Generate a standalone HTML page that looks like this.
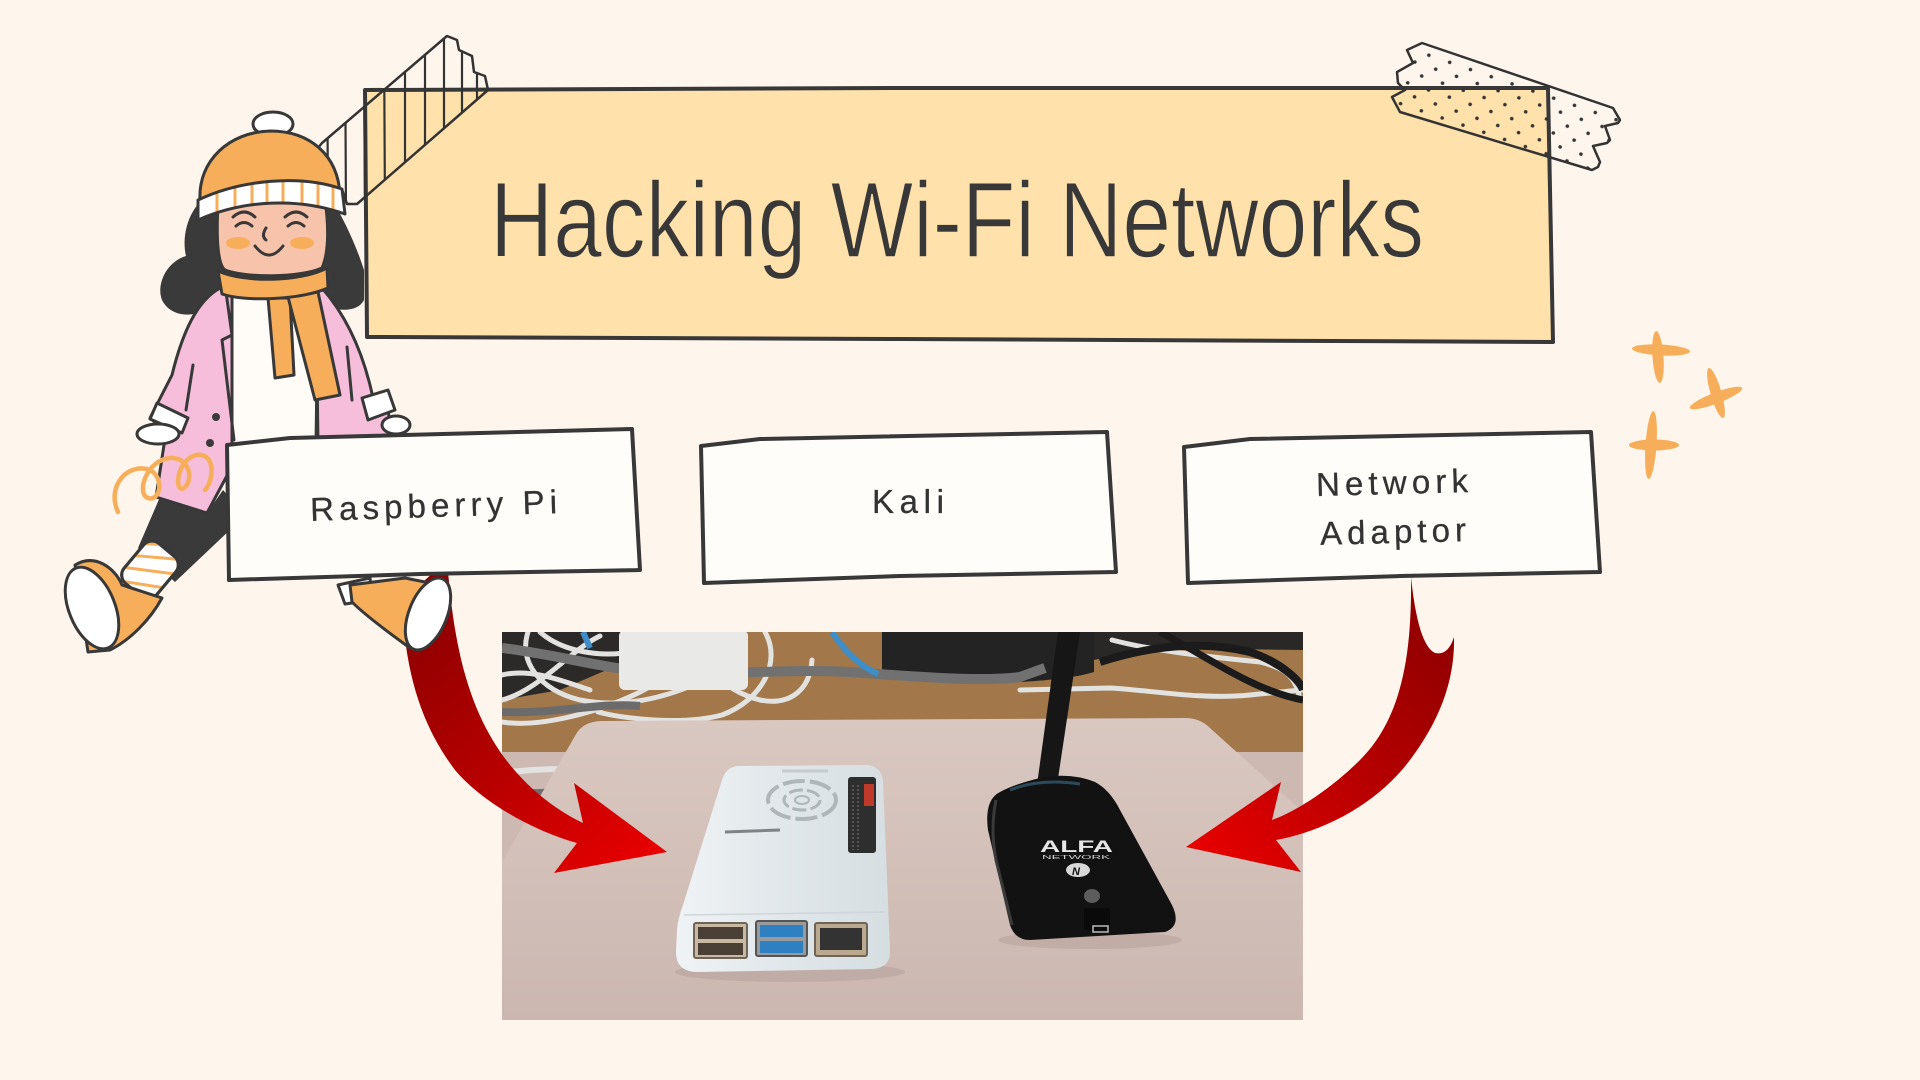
<!DOCTYPE html>
<html><head><meta charset="utf-8"><style>
html,body{margin:0;padding:0;background:#FEF6ED;}
svg{display:block;}
</style></head><body>
<svg width="1920" height="1080" viewBox="0 0 1920 1080" xmlns="http://www.w3.org/2000/svg">
<defs>
 <clipPath id="pc"><rect x="502" y="632" width="801" height="388"/></clipPath>
 <linearGradient id="gl" gradientUnits="userSpaceOnUse" x1="420" y1="600" x2="640" y2="860">
  <stop offset="0" stop-color="#8c0000"/><stop offset="0.55" stop-color="#b80000"/><stop offset="1" stop-color="#e60000"/>
 </linearGradient>
 <linearGradient id="gr" gradientUnits="userSpaceOnUse" x1="1440" y1="600" x2="1210" y2="860">
  <stop offset="0" stop-color="#8c0000"/><stop offset="0.55" stop-color="#b80000"/><stop offset="1" stop-color="#e60000"/>
 </linearGradient>
 <linearGradient id="mat" x1="0" y1="0" x2="0" y2="1">
  <stop offset="0" stop-color="#d9c8c1"/><stop offset="1" stop-color="#cbb7b0"/>
 </linearGradient>
 <linearGradient id="pi" x1="0" y1="0" x2="1" y2="0">
  <stop offset="0" stop-color="#f0f3f5"/><stop offset="0.4" stop-color="#e3e9ec"/><stop offset="1" stop-color="#d6dee2"/>
 </linearGradient>
 <pattern id="dots" patternUnits="userSpaceOnUse" width="22" height="22" patternTransform="rotate(19)">
  <circle cx="5" cy="5" r="1.8" fill="#333"/><circle cx="16" cy="16" r="1.8" fill="#333"/>
 </pattern>
 <clipPath id="tapeL"><polygon points="447,36 457,40 459,50 472,56 474,72 485,76 488,90 357,204 347,204 343,192 327,172 314,167 313,154 322,143"/></clipPath>
 <clipPath id="brimc"><path d="M198,200 C240,180 300,174 342,189 L345,214 C300,198 245,199 198,220 Z"/></clipPath>
 <clipPath id="sockc"><rect x="-21" y="-26" width="42" height="52" rx="11"/></clipPath>
</defs>

<rect width="1920" height="1080" fill="#FEF6ED"/>

<!-- ================= PHOTO ================= -->
<g clip-path="url(#pc)">
 <rect x="502" y="632" width="801" height="388" fill="#cdb9b2"/>
 <rect x="502" y="632" width="801" height="120" fill="#a2774a"/>
 <path d="M502,632 L650,632 L630,660 L560,690 L502,700 Z" fill="#2c2a28"/>
 <path d="M1094,632 L1303,632 L1303,650 L1150,648 L1094,660 Z" fill="#2a2826"/>
 <path d="M882,632 L1094,632 L1094,672 C1050,686 920,686 882,676 Z" fill="#232323"/>
 <g fill="none" stroke="#e2e2e0" stroke-width="5" stroke-linecap="round">
  <path d="M502,700 C540,690 570,650 600,636"/>
  <path d="M502,722 C540,728 600,712 640,692 C680,672 700,650 722,632"/>
  <path d="M528,632 C518,662 540,690 580,700 C620,708 660,700 700,682"/>
  <path d="M765,632 C782,662 762,700 722,715 C680,726 620,718 598,712"/>
  <path d="M690,632 C700,660 720,690 760,700 C790,706 810,690 812,660"/>
  <path d="M502,675 C530,668 560,680 590,690"/>
  <path d="M540,632 C560,650 600,660 640,650"/>
  <path d="M1020,690 L1110,688 C1150,690 1200,700 1250,695 C1280,692 1300,690 1303,690"/>
  <path d="M1112,640 C1150,650 1200,656 1260,662 C1285,668 1296,676 1300,700"/>
  <path d="M508,772 C530,770 550,768 575,770" stroke-width="6"/>
 </g>
 <path d="M502,790 C530,795 560,792 570,788" stroke="#6e6e6e" stroke-width="7" fill="none"/>
 <path d="M502,648 C560,655 600,668 650,672 C720,677 780,668 850,672 C920,677 980,682 1020,677 L1045,668" fill="none" stroke="#717171" stroke-width="10"/>
 <path d="M502,712 C560,714 600,702 640,706" fill="none" stroke="#6b6b6b" stroke-width="8"/>
 <path d="M583,632 L590,648" stroke="#3d8ec9" stroke-width="6"/>
 <path d="M832,632 C845,652 860,666 878,674" fill="none" stroke="#3d8ec9" stroke-width="6"/>
 <path d="M1100,662 C1150,646 1200,640 1250,652 C1280,662 1300,680 1303,690" fill="none" stroke="#1b1b1b" stroke-width="8"/>
 <path d="M1160,632 C1200,652 1250,690 1303,700" fill="none" stroke="#1b1b1b" stroke-width="7"/>
 <rect x="619" y="630" width="129" height="60" rx="6" fill="#e9e9e8"/>
 <path d="M502,862 L575,736 Q582,722 600,721 L1185,718 Q1200,718 1210,728 L1303,812 L1303,1020 L502,1020 Z" fill="url(#mat)"/>
 <ellipse cx="790" cy="972" rx="115" ry="10" fill="#b8a39c" opacity="0.6"/>
 <ellipse cx="1090" cy="940" rx="92" ry="9" fill="#b8a39c" opacity="0.6"/>
 <path d="M738,766 L866,765 Q880,765 883,780 L890,950 Q891,968 872,969 L698,972 Q676,972 676,952 L677,930 Q678,918 683,905 L722,780 Q726,767 738,766 Z" fill="url(#pi)"/>
 <path d="M684,915 L885,912" stroke="#cfd6da" stroke-width="1.5"/>
 <path d="M782,771 L828,771" stroke="#c4cacd" stroke-width="3"/>
 <path d="M725,832 L780,830" stroke="#7d8488" stroke-width="3"/>
 <ellipse cx="802" cy="800" rx="34" ry="19" fill="none" stroke="#aeb6ba" stroke-width="4" stroke-dasharray="22 5"/>
 <ellipse cx="802" cy="800" rx="18" ry="10" fill="none" stroke="#aeb6ba" stroke-width="3" stroke-dasharray="14 4"/>
 <ellipse cx="802" cy="800" rx="7" ry="4" fill="none" stroke="#aeb6ba" stroke-width="2"/>
 <rect x="848" y="777" width="28" height="76" rx="3" fill="#2e2e2e"/>
 <path d="M853,785 L853,850 M858,785 L858,850" stroke="#555" stroke-width="2" stroke-dasharray="2 2"/>
 <rect x="864" y="784" width="10" height="22" fill="#c0392b"/>
 <rect x="694" y="923" width="53" height="35" rx="2" fill="#c9b9a2" stroke="#6e6458" stroke-width="2"/>
 <rect x="698" y="927" width="45" height="12" fill="#4a4036"/>
 <rect x="698" y="943" width="45" height="12" fill="#4a4036"/>
 <rect x="756" y="921" width="51" height="35" rx="2" fill="#9a9a9a" stroke="#555" stroke-width="2"/>
 <rect x="760" y="925" width="43" height="12" fill="#2f80c0"/>
 <rect x="760" y="941" width="43" height="12" fill="#2f80c0"/>
 <rect x="815" y="923" width="52" height="33" rx="2" fill="#bba98f" stroke="#6e6458" stroke-width="2"/>
 <rect x="820" y="928" width="42" height="22" fill="#333"/>
 <polygon points="1058,632 1080,632 1056,792 1036,792" fill="#161616"/>
 <path d="M1040,778 Q1070,772 1095,782 Q1110,790 1120,810 L1172,905 Q1182,926 1165,932 L1030,940 Q1015,940 1010,925 L988,830 Q984,800 1000,792 Q1015,784 1040,778 Z" fill="#121212"/>
 <path d="M996,800 Q990,830 996,860 L1012,925" fill="none" stroke="#3a3a3a" stroke-width="3"/>
 <path d="M1010,790 Q1040,778 1080,784" fill="none" stroke="#2b4a5a" stroke-width="3"/>
 <text x="1040" y="852" font-family="Liberation Sans, sans-serif" font-weight="bold" font-size="17" fill="#e6e6e6" textLength="73" lengthAdjust="spacingAndGlyphs">ALFA</text>
 <text x="1042" y="859" font-family="Liberation Sans, sans-serif" font-size="5" fill="#cfcfcf" textLength="68" lengthAdjust="spacingAndGlyphs">NETWORK</text>
 <ellipse cx="1078" cy="870" rx="12" ry="7" fill="#d8d8d8"/>
 <text x="1072" y="875" font-family="Liberation Sans, sans-serif" font-weight="bold" font-style="italic" font-size="11" fill="#111">N</text>
 <ellipse cx="1092" cy="896" rx="8" ry="7" fill="#5c5c5c"/>
 <rect x="1084" y="908" width="26" height="22" fill="#0a0a0a"/>
 <rect x="1093" y="926" width="15" height="6" fill="none" stroke="#bbb" stroke-width="1.5"/>
</g>

<!-- ================= ARROWS ================= -->
<path d="M447,560 C452,620 460,690 497,747 C515,775 545,805 583,823 L574,783 L667,852 L554,873 L577,843 C530,830 480,800 455,770 C425,730 405,680 402,600 Q420,585 447,560 Z" fill="url(#gl)"/>
<path d="M1411,577 C1412,660 1400,720 1360,760 C1335,785 1300,810 1272,820 L1281,782 L1186,847 L1301,872 L1276,840 C1330,830 1380,800 1410,760 C1440,720 1455,680 1454,637 Q1448,656 1435,653 Q1418,645 1411,577 Z" fill="url(#gr)"/>

<!-- ================= TITLE ================= -->
<path d="M365,90 L900,88 L1548,88 L1553,342 L900,339 L367,337 Z" fill="#FFE1AB" stroke="#383838" stroke-width="4" stroke-linejoin="round"/>
<text x="490" y="257" font-family="Liberation Sans, sans-serif" font-size="108" fill="#383838" stroke="#FFE1AB" stroke-width="1.5" textLength="934" lengthAdjust="spacingAndGlyphs">Hacking Wi-Fi Networks</text>

<!-- tapes -->
<g clip-path="url(#tapeL)" stroke="#333" stroke-width="2.2">
 <path d="M327,30 L328,215 M345,30 L346,215 M364,30 L365,215 M384,30 L385,215 M405,30 L405,215 M425,30 L425,215 M444,30 L444,215 M462,30 L462,215 M477,30 L477,215"/>
</g>
<polygon points="447,36 457,40 459,50 472,56 474,72 485,76 488,90 357,204 347,204 343,192 327,172 314,167 313,154 322,143" fill="none" stroke="#333" stroke-width="2.5" stroke-linejoin="round"/>
<polygon points="1422,43 1613,108 1620,120 1618,123 1605,126 1610,140 1607,143 1593,146 1600,162 1598,167 1592,170 1400,112 1392,97 1405,90 1398,83 1397,72 1413,63 1407,50" fill="url(#dots)" stroke="#333" stroke-width="2.5" stroke-linejoin="round"/>

<!-- ================= GIRL ================= -->
<g stroke="#383838" stroke-width="3" stroke-linejoin="round" stroke-linecap="round">
 <path d="M202,200 C186,215 182,240 186,256 C166,262 156,285 162,300 C170,316 190,318 206,310 L320,305 C340,312 358,312 364,300 L364,270 C356,245 346,225 338,210 Z" fill="#3a3a3a" stroke="none"/>
 <path d="M160,497 L207,513 L223,490 L232,500 L232,528 L175,582 L138,548 Z" fill="#3a3a3a" stroke="none"/>
 <path d="M220,288 C198,300 183,330 172,375 L150,418 L166,432 L156,497 L207,513 L230,470 L310,470 L330,440 L395,440 L388,412 L373,398 C365,360 350,320 322,288 Z" fill="#F6BEDB"/>
 <path d="M232,296 L318,296 L316,445 L232,447 Z" fill="#FFFCF8"/>
 <path d="M226,292 L232,335 L222,340 L234,440" fill="none"/>
 <path d="M193,365 L186,410" fill="none"/>
 <path d="M347,347 L352,400" fill="none"/>
 <path d="M316,300 L318,445" fill="none"/>
 <path d="M268,298 L290,298 L294,375 L275,378 Z" fill="#F7AE5A"/>
 <path d="M288,297 L318,292 L340,395 L315,400 Z" fill="#F7AE5A"/>
 <path d="M218,205 C216,240 218,265 225,270 C245,278 300,278 322,268 C330,250 328,220 325,200 Z" fill="#F8C3AB"/>
 <path d="M218,271 C245,283 300,282 327,268 L328,288 C300,300 245,302 222,294 Z" fill="#F7AE5A"/>
 <path d="M233,217 Q244,207 255,217 M236,226 Q244,219 252,226 M285,217 Q296,207 307,217 M288,226 Q296,219 304,226" fill="none"/>
 <path d="M266,228 Q261,236 266,240" fill="none"/>
 <path d="M255,246 Q269,264 283,246" fill="none"/>
 <ellipse cx="238" cy="243" rx="12" ry="6" fill="#F7AE5A" stroke="none"/>
 <ellipse cx="302" cy="243" rx="12" ry="6" fill="#F7AE5A" stroke="none"/>
 <ellipse cx="273" cy="124" rx="20" ry="12" fill="#fff"/>
 <path d="M200,200 C198,160 230,132 270,131 C310,131 338,155 340,195 Z" fill="#F7AE5A"/>
 <g clip-path="url(#brimc)">
  <path d="M198,200 C240,180 300,174 342,189 L345,214 C300,198 245,199 198,220 Z" fill="#fff" stroke="none"/>
  <path d="M217,170 L217,230 M235,170 L235,230 M252,170 L252,230 M267,170 L267,230 M283,170 L283,230 M302,170 L302,230 M318,170 L318,230 M333,170 L333,230" stroke="#F7AE5A" stroke-width="3"/>
 </g>
 <path d="M198,200 C240,180 300,174 342,189 L345,214 C300,198 245,199 198,220 Z" fill="none"/>
 <path d="M157,403 L188,418 L182,433 L150,419 Z" fill="#fff"/>
 <ellipse cx="158" cy="434" rx="21" ry="10" fill="#fff"/>
 <path d="M362,398 L388,390 L395,410 L368,420 Z" fill="#fff"/>
 <ellipse cx="396" cy="425" rx="14" ry="9" fill="#fff"/>
 <circle cx="216" cy="417" r="4" fill="#3a3a3a" stroke="none"/>
 <circle cx="210" cy="443" r="4" fill="#3a3a3a" stroke="none"/>
 <g transform="translate(150,570) rotate(40)">
  <rect x="-21" y="-26" width="42" height="52" rx="11" fill="#fff"/>
  <g clip-path="url(#sockc)" stroke="#F7AE5A" stroke-width="3"><path d="M-30,-10 L10,-40 M-30,5 L20,-30 M-30,20 L25,-15 M-20,30 L30,0"/></g>
  <rect x="-21" y="-26" width="42" height="52" rx="11" fill="none"/>
 </g>
 <path d="M75,565 C95,553 115,568 122,585 L162,598 C150,620 130,640 110,650 L88,652 Z" fill="#F7AE5A"/>
 <ellipse cx="92" cy="608" rx="23" ry="43" transform="rotate(-22 92 608)" fill="#fff"/>
 <path d="M338,585 L370,578 L372,600 L345,604 Z" fill="#fff"/>
 <path d="M350,585 L405,578 L440,585 L425,645 L410,648 C385,630 365,615 352,602 Z" fill="#F7AE5A"/>
 <ellipse cx="428" cy="614" rx="19" ry="38" transform="rotate(22 428 614)" fill="#fff"/>
 <path d="M118,512 C106,486 128,462 150,470 C165,478 160,502 148,498 C136,494 146,460 170,458 C190,457 194,480 184,488 C174,494 176,460 196,455 C216,452 214,480 205,490" fill="none" stroke="#F7AE5A" stroke-width="4.5"/>
</g>

<!-- ================= BOXES ================= -->
<g fill="#FFFDF9" stroke="#383838" stroke-width="4" stroke-linejoin="round">
 <path d="M227,445 L290,438 L632,429 L640,570 L420,574 L229,580 Z"/>
 <path d="M701,446 L760,439 L1107,432 L1116,572 L900,576 L704,583 Z"/>
 <path d="M1184,447 L1250,439 L1591,432 L1600,572 L1400,576 L1188,583 Z"/>
</g>
<g font-family="Liberation Sans, sans-serif" font-size="33" fill="#333" stroke="#333" stroke-width="0.3">
 <text x="310" y="517" textLength="247" lengthAdjust="spacing" transform="rotate(-1.8 433 505)">Raspberry Pi</text>
 <text x="872" y="513" textLength="72" lengthAdjust="spacing">Kali</text>
 <text x="1316" y="494" textLength="152" lengthAdjust="spacing" transform="rotate(-1.5 1392 483)">Network</text>
 <text x="1320" y="543" textLength="146" lengthAdjust="spacing" transform="rotate(-1.5 1393 532)">Adaptor</text>
</g>

<!-- ================= SPARKLES ================= -->
<g fill="#F7AE5A">
 <ellipse cx="1658" cy="357" rx="5.5" ry="26" transform="rotate(-4 1658 357)"/>
 <ellipse cx="1661" cy="350" rx="29" ry="5.5" transform="rotate(3 1661 350)"/>
 <ellipse cx="1716" cy="393" rx="5.5" ry="26" transform="rotate(-16 1716 393)"/>
 <ellipse cx="1716" cy="398" rx="28" ry="5.5" transform="rotate(-21 1716 398)"/>
 <ellipse cx="1651" cy="445" rx="5.5" ry="34" transform="rotate(4 1651 445)"/>
 <ellipse cx="1654" cy="445" rx="25" ry="5.5"/>
</g>
</svg>
</body></html>
